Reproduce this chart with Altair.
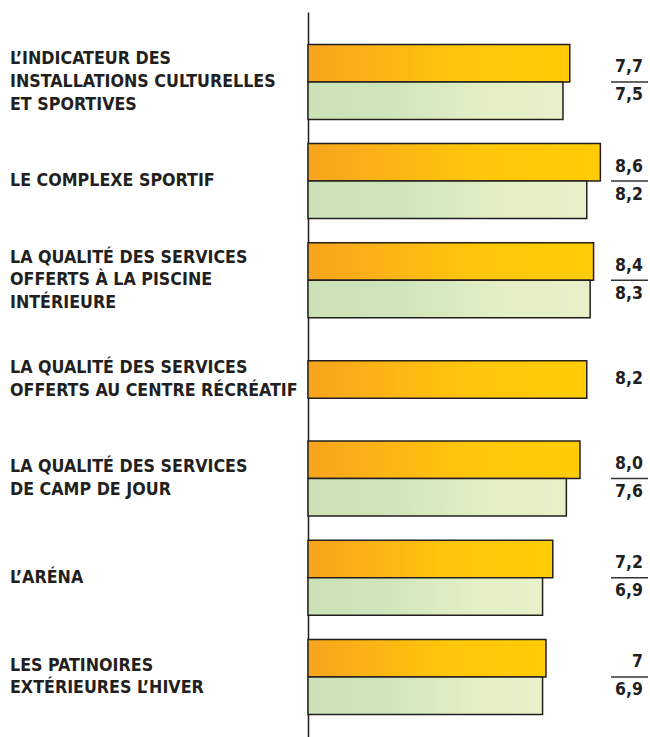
import altair as alt
import pandas as pd

categories = [
    "L’INDICATEUR DES|INSTALLATIONS CULTURELLES|ET SPORTIVES",
    "LE COMPLEXE SPORTIF",
    "LA QUALITÉ DES SERVICES|OFFERTS À LA PISCINE|INTÉRIEURE",
    "LA QUALITÉ DES SERVICES|OFFERTS AU CENTRE RÉCRÉATIF",
    "LA QUALITÉ DES SERVICES|DE CAMP DE JOUR",
    "L’ARÉNA",
    "LES PATINOIRES|EXTÉRIEURES L’HIVER",
]
orange_values = [7.7, 8.6, 8.4, 8.2, 8.0, 7.2, 7.0]
green_values = [7.5, 8.2, 8.3, None, 7.6, 6.9, 6.9]
orange_labels = ["7,7", "8,6", "8,4", "8,2", "8,0", "7,2", "7"]
green_labels = ["7,5", "8,2", "8,3", "", "7,6", "6,9", "6,9"]

df = pd.DataFrame({
    "cat": categories,
    "a": orange_values,
    "b": green_values,
    "a_lab": orange_labels,
    "b_lab": green_labels,
})

FONT = "Liberation Sans Narrow, DejaVu Sans Condensed, Liberation Sans, sans-serif"
TXT = "#231F20"
LINE_H = 22.7

orange_grad = alt.Gradient(
    gradient="linear", x1=0, x2=1, y1=0, y2=0,
    stops=[
        alt.GradientStop(offset=0, color="#F7A41D"),
        alt.GradientStop(offset=0.6, color="#FFC70A"),
        alt.GradientStop(offset=1, color="#FFCC05"),
    ],
)
green_grad = alt.Gradient(
    gradient="linear", x1=0, x2=1, y1=0, y2=0,
    stops=[
        alt.GradientStop(offset=0, color="#CBE2B6"),
        alt.GradientStop(offset=0.3, color="#CEE4BA"),
        alt.GradientStop(offset=0.7, color="#E4EFC5"),
        alt.GradientStop(offset=1, color="#E7F0C8"),
    ],
)

y_enc = alt.Y(
    "cat:N",
    sort=categories,
    scale=alt.Scale(paddingInner=0, paddingOuter=0.155, align=0.66),
    axis=alt.Axis(
        title=None, ticks=False, grid=False, domain=True, labels=False,
        domainColor=TXT, domainWidth=1.5,
    ),
)
x_enc = alt.X("a:Q", scale=alt.Scale(domain=[0, 10.06]), axis=None)
x_enc_b = alt.X("b:Q", scale=alt.Scale(domain=[0, 10.06]), axis=None)

base = alt.Chart(df)
paired = "isValid(datum.b)"
single = "!isValid(datum.b)"

orange_pair = base.transform_filter(paired).mark_bar(
    height=37.5, yOffset=-18.75, fill=orange_grad, stroke=TXT, strokeWidth=1.5
).encode(y=y_enc, x=x_enc)
orange_single = base.transform_filter(single).mark_bar(
    height=37.5, yOffset=0, fill=orange_grad, stroke=TXT, strokeWidth=1.5
).encode(y=y_enc, x=x_enc)
green_pair = base.transform_filter(paired).mark_bar(
    height=37.5, yOffset=18.75, fill=green_grad, stroke=TXT, strokeWidth=1.5
).encode(y=y_enc, x=x_enc_b)


def cat_layer(n):
    return base.transform_calculate(
        lines="split(datum.cat, '|')",
        n="length(split(datum.cat, '|'))",
    ).transform_filter(f"datum.n == {n}").mark_text(
        font=FONT, fontSize=17.7, fontWeight="bold", color=TXT,
        align="left", baseline="middle", lineHeight=LINE_H,
        dy=-(n - 1) * LINE_H / 2,
    ).encode(
        y=y_enc,
        x=alt.value(-298),
        text="lines:N",
    )


txt_style = dict(font=FONT, fontSize=17.5, fontWeight="bold", color=TXT,
                 align="right", baseline="middle")
lab_a_pair = base.transform_filter(paired).mark_text(dy=-14.5, **txt_style).encode(
    y=y_enc, x=alt.value(335), text="a_lab:N")
lab_a_single = base.transform_filter(single).mark_text(dy=0, **txt_style).encode(
    y=y_enc, x=alt.value(335), text="a_lab:N")
lab_b_pair = base.transform_filter(paired).mark_text(dy=13.5, **txt_style).encode(
    y=y_enc, x=alt.value(335), text="b_lab:N")
sep = base.transform_filter(paired).mark_rule(color="#333333", strokeWidth=1.5).encode(
    y=y_enc, x=alt.value(303), x2=alt.value(340))

chart = alt.layer(
    orange_pair, orange_single, green_pair,
    cat_layer(1), cat_layer(2), cat_layer(3),
    lab_a_pair, lab_a_single, lab_b_pair, sep
).properties(
    width=342, height=725,
    autosize=alt.AutoSizeParams(type="none"),
    padding={"left": 308, "top": 12, "right": 0, "bottom": 0},
    background="white",
).configure_view(stroke=None, clip=False)

chart.save("out.html", embed_options={"renderer": "svg", "actions": False})
